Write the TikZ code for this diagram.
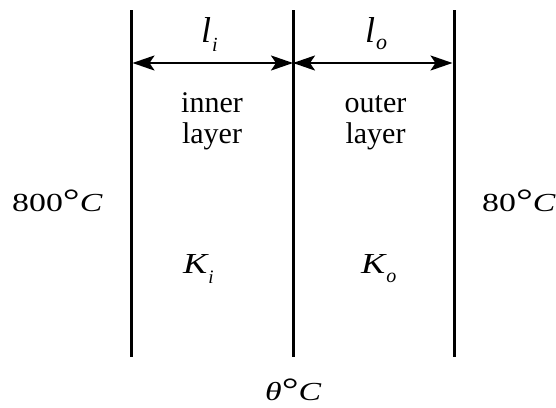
\documentclass[tikz,border=0pt]{standalone}
\usepackage{fontspec}
\setmainfont{Liberation Serif}
\usetikzlibrary{arrows.meta}
\newcommand{\degsym}{\raisebox{0pt}{\scalebox{1.25}{°}}}
\begin{document}
\begin{tikzpicture}[x=1pt,y=-1pt,
  wall/.style={line width=3pt},
  dim/.style={line width=2.4pt,{Stealth[length=22pt,width=15pt,inset=5pt]}-{Stealth[length=22pt,width=15pt,inset=5pt]}},
  txt/.style={inner sep=0pt,anchor=base,font=\fontsize{30}{31}\selectfont,align=center},
  lab/.style={inner sep=0pt,anchor=base west}]
\useasboundingbox (0,0) rectangle (556,407);
% walls
\coordinate (w1t) at (131,10);  \coordinate (w1b) at (131,357);
\coordinate (w2t) at (293,10);  \coordinate (w2b) at (293,357);
\coordinate (w3t) at (454,10);  \coordinate (w3b) at (454,357);
\draw[wall] (w1t) -- (w1b);
\draw[wall] (w2t) -- (w2b);
\draw[wall] (w3t) -- (w3b);
% dimension arrows
\coordinate (d1) at (132.5,63);
\coordinate (d2) at (293,63);
\coordinate (d3) at (452.5,63);
\draw[dim] (d1) -- (d2);
\draw[dim] (d2) -- (d3);
% thickness labels
\node[lab] (li) at (201,42) {\fontsize{36}{36}\selectfont\itshape l\kern1pt\raisebox{-9pt}{\fontsize{20}{20}\selectfont i}};
\node[lab] (lo) at (365,42) {\fontsize{36}{36}\selectfont\itshape l\kern1pt\raisebox{-7pt}{\fontsize{22}{22}\selectfont o}};
% layer names
\node[txt] (inner) at (212,143) {inner\\layer};
\node[txt] (outer) at (375.5,143) {outer\\layer};
% conductivities
\node[lab] (ki) at (183,273) {\scalebox{1.25}[1]{\fontsize{29}{29}\selectfont\itshape K}\kern1pt\raisebox{-10pt}{\fontsize{19}{19}\selectfont\itshape i}};
\node[lab] (ko) at (361,273) {\scalebox{1.25}[1]{\fontsize{29}{29}\selectfont\itshape K}\kern1pt\raisebox{-9pt}{\fontsize{20}{20}\selectfont\itshape o}};
% temperatures
\node[lab] (th) at (12,211) {\scalebox{1.3}[1]{\fontsize{26}{26}\selectfont 800\degsym\textit{C}}};
\node[lab] (tc) at (482,211) {\scalebox{1.3}[1]{\fontsize{26}{26}\selectfont 80\degsym\textit{C}}};
\node[lab] (tm) at (265,400) {\scalebox{1.3}[1]{\fontsize{26}{26}\selectfont\textit{θ}\degsym\textit{C}}};
\end{tikzpicture}
\end{document}
